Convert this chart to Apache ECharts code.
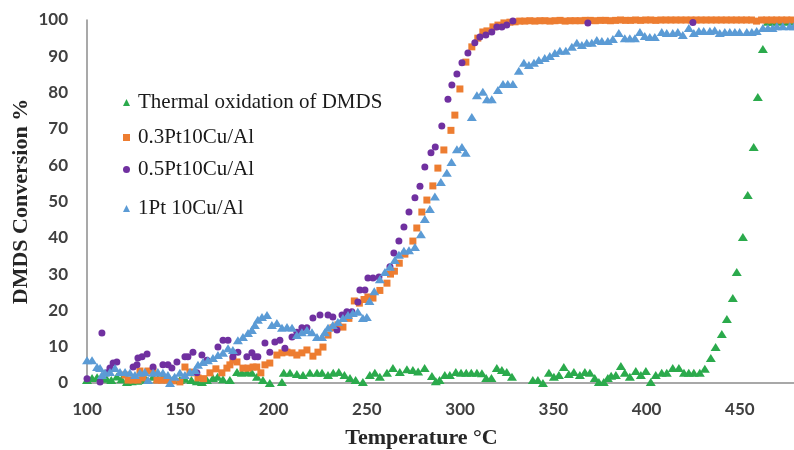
<!DOCTYPE html>
<html>
<head>
<meta charset="utf-8">
<script src="https://cdn.jsdelivr.net/npm/echarts@6/dist/echarts.min.js"></script>
<style>html,body{margin:0;padding:0;background:#fff}#c{width:794px;height:450px}</style>
</head>
<body>
<div id="c"></div>
<script>
const seriesNames = ['Thermal oxidation of DMDS', '0.3Pt10Cu/Al', '0.5Pt10Cu/Al', '1Pt 10Cu/Al'];
const xTicks = [100, 150, 200, 250, 300, 350, 400, 450];
const yTicks = [0, 10, 20, 30, 40, 50, 60, 70, 80, 90, 100];

const thermal = [[100,0.8],[102.7,1.4],[105.4,1.6],[108,1.7],[110.5,1.2],[113,0.8],[116,1.8],[118.5,1.0],[121.4,0.3],[124,0.5],[127,0.6],[129.5,1.2],[132,0.8],[135.4,1.7],[138,1.2],[140.7,1.7],[143.4,1.4],[146,0.8],[149.8,0.8],[152.5,1.2],[156,0.8],[158.9,0.5],[161.6,0.3],[164.3,0.8],[167.5,1.4],[170,1.7],[172.9,1.0],[176.6,0.8],[180.4,3],[183,2.8],[185.7,3],[188.4,2.8],[191.1,1.7],[194.3,0.8],[198,0],[204.5,0.3],[205.5,2.8],[208.8,2.8],[212.5,2.5],[215.8,2.2],[219.5,2.8],[223.3,2.8],[226,2.8],[229.2,2.2],[232,2.8],[235,3],[238,2.2],[241,1.4],[244,0.8],[247.9,0.3],[251.6,2.2],[254.3,2.8],[257,1.7],[260.8,2.8],[264,4.1],[267.7,3],[271.5,3.8],[274.7,3.6],[277.5,3.2],[281,4.1],[284.9,1.9],[287,0.5],[289,0.8],[291.8,2.2],[294.5,2.2],[297.7,3],[300.5,2.8],[303.3,2.8],[306,2.8],[309,2.8],[311.7,2.7],[314,1.4],[316.8,1.4],[319.7,4.1],[322.4,3.6],[325,3],[327.8,1.7],[339,0.8],[341.7,0.8],[344.4,0],[347.6,2.8],[350.3,1.7],[353,2.2],[355.6,4.4],[358.3,2.5],[361,3],[364.2,2.2],[366.9,3],[369.6,2.8],[372.2,1.4],[374.4,0.3],[377,0.3],[379.2,1.4],[381,2.0],[383.5,2.2],[386.2,4.7],[388.3,2.8],[391,1.7],[394.2,3.3],[396.9,2.2],[399.6,3.3],[402.2,0.3],[404.9,2.2],[408.1,2.8],[410.8,2.8],[414,4.1],[417.3,4.1],[420,2.8],[422.6,2.8],[425.3,2.8],[428.5,2.8],[431.2,3.9],[434.4,6.9],[437,9.9],[440.3,13.5],[443,17.6],[446.2,23.4],[448.3,30.6],[451.6,40.2],[454.2,51.8],[457.4,65],[459.6,78.8],[462.3,92],[465,99.5],[467.5,99.5],[470,99.6],[472.5,99.6],[475,99.6],[477.5,99.6]];

const pt03 = [[120.4,2.2],[122,0.8],[124.7,0.8],[127.3,0.8],[128.4,3.3],[130,1.4],[132.7,3.3],[135.4,3.3],[137.5,0.8],[140,0.8],[142.9,0.8],[146,0.6],[149.8,0.3],[152.5,4.4],[155.2,3],[156.8,2.8],[159.5,1.4],[162.5,1.2],[165.9,2.8],[169.1,3.9],[172.3,2.8],[175,4.1],[176.6,5],[178.2,6.3],[180.4,5.8],[183.6,4.1],[186.3,4.1],[189,4.4],[191,4.4],[193.2,2.8],[195.4,5],[198,5.5],[201.8,7.7],[204.5,8.3],[207.2,8.5],[209.9,8.3],[212.5,7.7],[215.2,8.3],[217.9,9.1],[221.1,7.4],[223.8,8.5],[226.5,9.9],[229.2,13.2],[231.8,15.2],[234.5,16],[237.2,15.4],[240.4,17.8],[243.3,22.6],[246,22],[248.5,23],[250.6,23.7],[253.3,23.4],[257,25.5],[260.8,27.5],[262.7,30],[264.8,30.8],[267.4,33],[270.4,35.5],[274.7,39.1],[276.8,42.7],[279.5,47.1],[282.2,50.4],[285.4,54.3],[288.1,59.2],[291.3,64.2],[295.1,69.6],[297.2,73.8],[299.9,81],[303.1,88.4],[306.3,92.6],[309.5,95],[312.2,96.7],[314.4,97],[317.6,98.1],[320.3,98.6],[323.5,99.2],[326.7,99.4],[329.5,99.5],[332,99.7],[334.7,99.7],[337.4,99.8],[340.1,99.7],[342.8,99.8],[345.5,99.8],[348.2,99.7],[350.9,99.8],[353.6,99.9],[356.3,99.7],[359,99.8],[361.7,99.8],[364.4,99.8],[367.1,99.9],[369.8,99.9],[372.5,99.8],[375.2,99.9],[377.9,99.9],[380.6,99.8],[383.3,99.9],[386,100],[388.7,99.9],[391.4,99.9],[394.1,100],[396.8,99.9],[399.5,100],[402.2,100],[404.9,99.9],[407.6,100],[410.3,100],[413,100],[415.7,100],[418.4,100],[421.1,100],[423.8,100],[426.5,100],[429.2,100],[431.9,100],[434.6,100],[437.3,100],[440,100],[442.7,100],[445.4,100],[448.1,100],[450.8,100],[453.5,100],[456.2,100],[458.9,99.7],[461.6,100],[464.3,100],[467,100],[469.7,100],[472.4,100],[475.1,100],[477.8,100]];

const pt05 = [[100,1.2],[107,0.3],[108,13.8],[110.7,2.8],[112.3,4.1],[114,5.5],[116,5.8],[124.7,4.4],[126.8,5],[127.3,6.9],[129.5,7.2],[132.2,8],[135.4,4.4],[140.7,5],[143.4,5],[145.5,4.1],[148.2,5.8],[152.5,7.2],[154.1,7.2],[156.8,8.5],[158.9,2.8],[161.6,7.7],[164.3,6.3],[170.2,9.9],[172.9,11.8],[175.6,11.8],[178.2,7.2],[180.9,8.5],[185.7,7.2],[188.4,8.3],[190,7.2],[191.6,7.2],[195.4,11],[198,8.5],[200.7,11.3],[203.4,11.8],[206.1,9.6],[209.9,12.7],[212.5,14],[215.2,15.2],[217.9,15.2],[221.1,17.9],[224.9,18.7],[229.2,18.7],[231.8,18.2],[234,14.6],[236.7,18.7],[239.3,19.6],[242,19.6],[245.2,22.3],[246.3,25.6],[249,25.6],[250.6,28.9],[253.3,28.9],[256.5,29.2],[262.4,32],[264.5,35.8],[267.2,39.1],[269.9,43],[272.6,47.1],[275.8,51],[278.5,54.2],[281.1,59.5],[284.4,63.4],[286.7,65],[290.2,70.8],[293.5,78.2],[295.6,82.1],[298.3,85.1],[301,88.2],[304.2,90.9],[307.9,93.7],[310.6,95.3],[313.8,95.9],[317,96.7],[319.7,98.1],[322.4,98.1],[325,98.6],[328.3,99.7],[331,100.3],[334,100.2],[337.5,100.4],[341,100.3],[344.5,100.4],[348,100.3],[351.5,100.4],[355,100.3],[358.5,100.4],[362,100.3],[365.5,100.4],[368.5,99.2],[372,100.3],[375.5,100.4],[379,100.3],[382.5,100.4],[386,100.2],[389.5,100.4],[393,100.3],[396.5,100.4],[400,100.3],[403.5,100.4],[407,100.2],[410.5,100.4],[414,100.3],[417.5,100.2],[421,100.3],[424.8,99.3],[428,100.2],[431.5,100.3],[435,100.2]];

const pt1 = [[100,6.3],[102.7,6.3],[105.4,4.4],[107,4.1],[108,2.2],[109.6,2.8],[112.3,3],[115,4.1],[117.7,3],[120.4,3],[123,2.8],[125.7,2.2],[128.4,2.8],[131,3],[132.7,0.8],[135.4,2.8],[138,3],[140.7,2.8],[143.4,2.2],[144.5,0],[147,1.7],[149.8,2.8],[152.5,2.2],[155.2,3],[157.9,3.6],[159.5,5],[162.2,5.8],[164.8,6.3],[167.5,6.9],[170.2,7.7],[172.9,8.3],[175.6,9.6],[178.2,9.1],[180.9,11.8],[183.6,12.7],[186.3,13.8],[188.4,14.6],[190,16],[191.6,17.4],[193.8,18.2],[196.5,18.7],[199.1,16],[201.8,16.5],[204.5,15.2],[207.2,15.4],[209.9,15.2],[212.5,13.2],[215.2,14],[217.9,14.6],[220.6,14],[223.3,12.7],[226,12.7],[227.5,14],[229.2,15.2],[231.8,16],[234.5,16.8],[237.2,17.9],[239.9,18.7],[242.5,19.3],[245.2,19.6],[247.9,17.9],[250,18.2],[251.4,22.6],[254,25.3],[257,28.6],[259.7,30.6],[262.4,32],[265,33.9],[267.2,35.3],[269.9,36.4],[272.6,36.6],[275.8,37.5],[279,41],[281.1,45.2],[283.8,47.9],[286.5,51.4],[289.7,55.4],[292.9,57.9],[295.4,60.9],[298.3,64.4],[301,65],[303,63.4],[306.3,73.3],[309,79.3],[312.2,80.2],[314.4,78.2],[317,78.2],[320.3,80.7],[323,82.4],[325.6,82.4],[328.3,82.4],[331.5,86],[334.2,88.2],[336.9,87.6],[339.6,88.2],[342.2,89],[345.4,89.5],[348.1,90.1],[350.8,90.9],[353.5,91.5],[356.7,91.5],[359.9,92.6],[362.6,93.7],[365.3,93.1],[367.9,93.7],[370.6,93.7],[373.3,94.5],[376,94.2],[379.2,94.2],[381.9,94.8],[385.1,96.4],[388.3,95],[391,95],[393.7,95],[396.4,96.7],[399,95.6],[401.7,95.3],[404.4,95.3],[408.1,96.7],[410.8,96.4],[414,96.4],[416.7,96.7],[419.4,95.9],[422.6,97.8],[425.3,96.4],[428,97],[430.6,97],[433.9,97],[436.5,97.2],[439.2,96.4],[441.9,96.7],[444.6,96.7],[447.3,96.7],[449.9,96.7],[453.7,96.7],[456.4,96.7],[459,97],[462.3,97.8],[465,97.8],[467.5,97.8],[469.8,98.3],[473,98.3],[476.7,98.3],[479,98.3]];

const colors = ['#2BAA4C', '#ED7D31', '#7030A0', '#5B9BD5'];
const symbols = ['triangle', 'rect', 'circle', 'triangle'];
const sizes = [[10, 8], 7, 7, [10, 8]];
const datasets = [thermal, pt03, pt05, pt1];
const legendTops = [87, 122, 154, 193];

const chart = echarts.init(document.getElementById('c'), null, {renderer: 'canvas'});
const tickFont = {fontFamily: 'Lato', fontWeight: 'bold', fontSize: 17, color: '#404040'};

chart.setOption({
  animation: false,
  backgroundColor: '#fff',
  grid: {left: 87, right: 0, top: 20, bottom: 67, containLabel: false, outerBoundsMode: 'none'},
  xAxis: {
    type: 'value', min: 100, max: 479, interval: 50,
    name: 'Temperature \u00B0C', nameLocation: 'middle', nameGap: 44, nameMoveOverlap: false,
    nameTextStyle: {fontFamily: 'Liberation Serif', fontWeight: 'bold', fontSize: 22, color: '#262626', padding: [0, 38, 0, 0]},
    axisLine: {show: true, lineStyle: {color: '#8c8c8c', width: 1.5}},
    axisTick: {show: false},
    splitLine: {show: false},
    axisLabel: Object.assign({margin: 18, customValues: xTicks}, tickFont)
  },
  yAxis: {
    type: 'value', min: 0, max: 100, interval: 10,
    name: 'DMDS Conversion %', nameLocation: 'middle', nameGap: 55, nameMoveOverlap: false,
    nameTextStyle: {fontFamily: 'Liberation Serif', fontWeight: 'bold', fontSize: 22, color: '#262626'},
    axisLine: {show: true, lineStyle: {color: '#8c8c8c', width: 1.5}},
    axisTick: {show: false},
    splitLine: {show: false},
    axisLabel: Object.assign({margin: 19}, tickFont)
  },
  legend: seriesNames.map((n, i) => ({
    data: [n], left: 118, top: legendTops[i], itemWidth: 7, itemHeight: 7, itemGap: 0,
    textStyle: {fontFamily: 'Liberation Serif', fontSize: 21, color: '#1a1a1a', padding: [0, 0, 0, 3]}
  })),
  series: seriesNames.map((n, i) => ({
    name: n, type: 'scatter', data: datasets[i], symbol: symbols[i], symbolSize: sizes[i],
    itemStyle: {color: colors[i], opacity: 1}, z: 2 + i
  }))
});
</script>
</body>
</html>
